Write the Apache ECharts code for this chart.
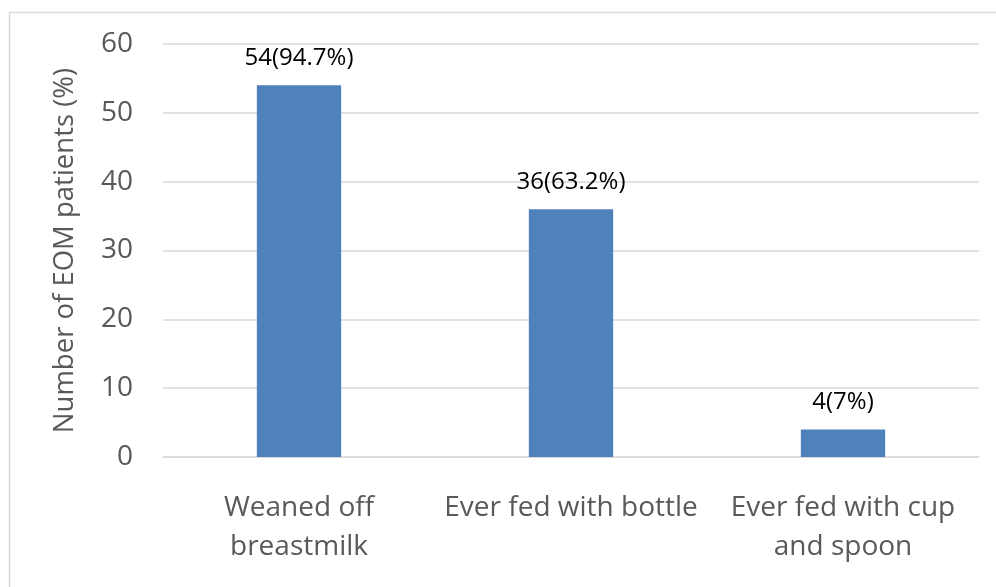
<!DOCTYPE html>
<html>
<head>
<meta charset="utf-8">
<script src="https://cdn.jsdelivr.net/npm/echarts@6/dist/echarts.min.js"></script>
<style>
  html, body { margin: 0; padding: 0; background: #fff; }
  #chart { width: 996px; height: 587px; }
</style>
</head>
<body>
<div id="chart"></div>
<script>
// Feeding history among EOM patients
const categories = ['Weaned off\nbreastmilk', 'Ever fed with bottle', 'Ever fed with cup\nand spoon'];
const counts = [54, 36, 4];
const percents = ['94.7%', '63.2%', '7%'];
const yTicks = [0, 10, 20, 30, 40, 50, 60];

const FONT = '"Open Sans", sans-serif';
const chart = echarts.init(document.getElementById('chart'), null, { renderer: 'canvas' });

chart.setOption({
  backgroundColor: '#ffffff',
  animation: false,
  graphic: [{
    type: 'rect',
    shape: { x: 9.5, y: 12.5, width: 1000, height: 600 },
    style: { fill: 'none', stroke: '#d9d9d9', lineWidth: 1.5 },
    silent: true
  }],
  grid: { left: 163, right: 17, top: 44, bottom: 130, containLabel: false },
  xAxis: {
    type: 'category',
    data: categories,
    axisTick: { show: false },
    axisLine: { show: true, lineStyle: { color: '#d9d9d9', width: 1.5 } },
    axisLabel: {
      color: '#595959',
      fontFamily: FONT,
      fontSize: 28,
      lineHeight: 39,
      margin: 32,
      interval: 0
    }
  },
  yAxis: {
    type: 'value',
    min: yTicks[0],
    max: yTicks[yTicks.length - 1],
    interval: 10,
    name: 'Number of EOM patients (%)',
    nameLocation: 'middle',
    nameGap: 84,
    nameTextStyle: { color: '#595959', fontFamily: FONT, fontSize: 27.5 },
    axisLine: { show: false },
    axisTick: { show: false },
    splitLine: { lineStyle: { color: '#d9d9d9', width: 1.5 } },
    axisLabel: { color: '#595959', fontFamily: FONT, fontSize: 28, margin: 30 }
  },
  series: [{
    type: 'bar',
    data: counts,
    barWidth: '31%',
    itemStyle: { color: '#4f81bd' },
    label: {
      show: true,
      position: 'top',
      distance: 15,
      color: '#000000',
      fontFamily: FONT,
      fontSize: 24,
      formatter: p => p.value + '(' + percents[p.dataIndex] + ')'
    }
  }]
});
</script>
</body>
</html>
